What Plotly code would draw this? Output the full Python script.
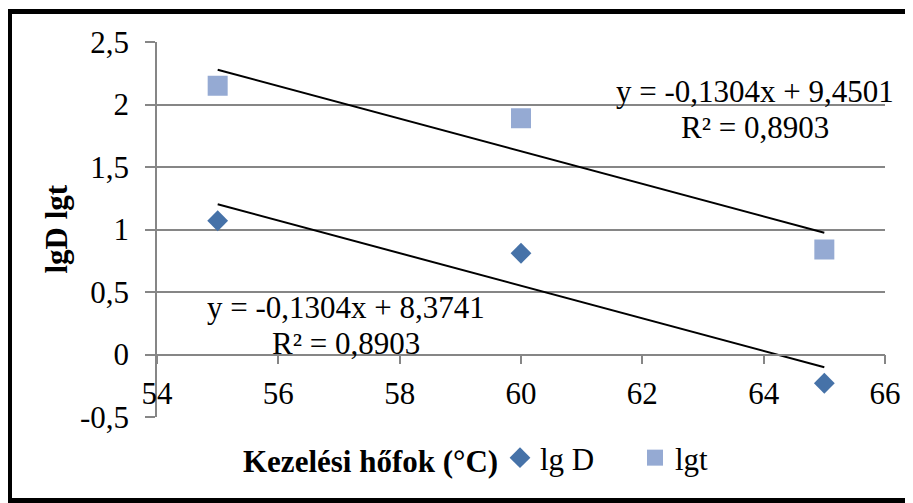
import plotly.graph_objects as go

# adatok
homerseklet = [55, 60, 65]
lg_d = [1.07, 0.81, -0.23]
lg_t = [2.15, 1.89, 0.84]

# trendvonalak (Excel lineáris illesztés): meredekség, tengelymetszet, R²
trend_lgd = (-0.1304, 8.3741, 0.8903)
trend_lgt = (-0.1304, 9.4501, 0.8903)

y_ticks = [-0.5, 0, 0.5, 1, 1.5, 2, 2.5]
y_ticktext = ["-0,5", "0", "0,5", "1", "1,5", "2", "2,5"]
x_range = [54, 66]
y_range = [-0.5, 2.5]

FONT = "Liberation Serif"
GRID = "#868686"
OFF = 8  # a böngésző body margója
W, H = 913 - OFF, 503 - OFF
M = dict(l=157 - OFF, r=28, t=42 - OFF, b=86)
pw = W - M["l"] - M["r"]
ph = H - M["t"] - M["b"]


def px_x(px):
    return (px - OFF - M["l"]) / pw


def px_y(py):
    return (H - M["b"] - (py - OFF)) / ph


def fmt(v, nd=4):
    return f"{v:.{nd}f}".replace(".", ",")


fig = go.Figure()

fig.add_trace(go.Scatter(
    x=homerseklet, y=lg_d, mode="markers", name="lg D",
    marker=dict(symbol="diamond", size=16, color="#4672A8", line=dict(width=0))
))
fig.add_trace(go.Scatter(
    x=homerseklet, y=lg_t, mode="markers", name="lgt",
    marker=dict(symbol="square", size=20, color="#95AAD3", line=dict(width=0))
))

x_fit = [min(homerseklet), max(homerseklet)]
for tr in (trend_lgd, trend_lgt):
    fig.add_trace(go.Scatter(
        x=x_fit, y=[tr[0] * x + tr[1] for x in x_fit], mode="lines",
        line=dict(color="black", width=2), showlegend=False, hoverinfo="skip"
    ))

fig.update_xaxes(
    range=x_range, dtick=2, anchor="free",
    position=(0 - y_range[0]) / (y_range[1] - y_range[0]),
    showline=True, linecolor=GRID, linewidth=1.5,
    ticks="outside", ticklen=9, tickcolor=GRID, tickwidth=1.5,
    ticklabelstandoff=3,
    showgrid=False, zeroline=False,
    tickfont=dict(family=FONT, size=31, color="black")
)
fig.update_yaxes(
    range=y_range, tickvals=y_ticks, ticktext=y_ticktext,
    showline=True, linecolor=GRID, linewidth=1.5,
    ticks="outside", ticklen=10, tickcolor=GRID, tickwidth=1.5,
    ticklabelstandoff=10,
    showgrid=True, gridcolor=GRID, gridwidth=1.5, zeroline=False,
    tickfont=dict(family=FONT, size=31, color="black")
)

ann = dict(xref="paper", yref="paper", showarrow=False, xanchor="center", yanchor="middle",
           font=dict(family=FONT, size=31, color="black"))
fig.add_annotation(text="<b>lgD lgt</b>", x=px_x(56), y=0.5, textangle=-90, **ann)
fig.add_annotation(text="<b>Kezelési hőfok (°C)</b>", x=px_x(370), y=px_y(461), **ann)

# trendvonal-egyenletek és R² értékek
for tr, cx, cy in ((trend_lgt, 755, 92), (trend_lgd, 346, 307)):
    a, b, r2 = tr
    fig.add_annotation(text=f"y = {fmt(a)}x + {fmt(b)}", x=px_x(cx), y=px_y(cy), **ann)
    fig.add_annotation(text=f"R² = {fmt(r2)}", x=px_x(cx), y=px_y(cy + 36), **ann)

# keret a diagram körül
fig.add_shape(
    type="rect", xref="paper", yref="paper",
    x0=px_x(9.5), x1=px_x(918), y0=px_y(500.5), y1=px_y(11.5),
    line=dict(color="black", width=5)
)

fig.update_layout(
    width=W, height=H, margin=M,
    plot_bgcolor="white", paper_bgcolor="white",
    font=dict(family=FONT, size=31, color="black"),
    legend=dict(
        orientation="h", x=px_x(500), y=px_y(458), xanchor="left", yanchor="middle",
        entrywidth=90, entrywidthmode="pixels", bgcolor="rgba(0,0,0,0)",
        font=dict(family=FONT, size=31, color="black")
    ),
    showlegend=True
)

fig.write_html("out.html")
